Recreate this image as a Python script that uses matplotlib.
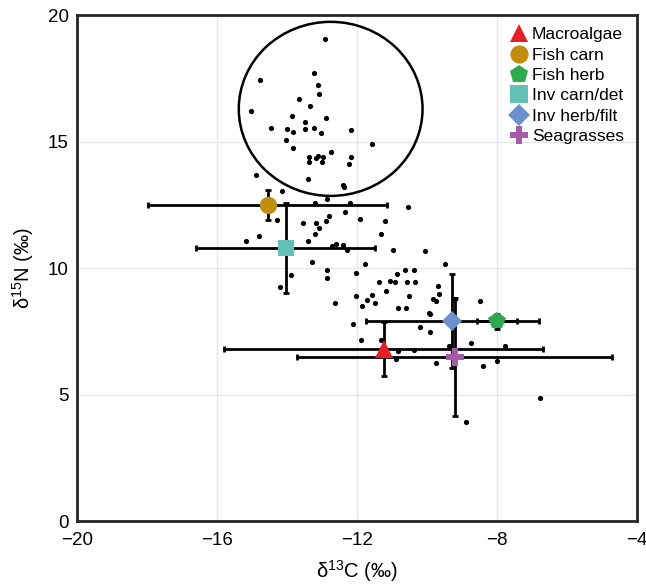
import matplotlib
matplotlib.use("Agg")
import matplotlib.pyplot as plt
from matplotlib.patches import Ellipse

plt.rcParams["font.family"] = ["Liberation Sans", "DejaVu Sans"]
plt.rcParams["mathtext.default"] = "regular"

# individual consumer samples (d13C, d15N)
pts_x = [-12.92, -13.24, -14.76, -13.12, -13.09, -13.66, -13.35, -15.03, -13.86, -12.89,
         -13.47, -14.46, -14.00, -13.83, -13.47, -13.24, -13.02, -12.16, -14.03, -11.57,
         -13.83, -12.74, -13.38, -13.38, -13.18, -13.11, -12.96, -12.99, -12.18, -12.24,
         -14.88, -13.40, -12.40, -12.37, -14.15, -12.85, -13.21, -12.21, -10.55, -12.34,
         -12.81, -14.27, -11.91, -11.20, -13.53, -13.17, -12.87, -13.07, -13.19, -11.30,
         -14.80, -15.16, -13.40, -12.61, -12.70, -12.39, -12.29, -10.98, -13.27, -11.76,
         -12.86, -10.63, -10.37, -13.87, -12.04, -12.86, -10.86, -11.37, -11.05, -10.91,
         -10.57, -10.35, -11.16, -14.20, -10.52, -11.58, -12.04, -11.72, -11.49, -11.86,
         -12.62, -10.83, -10.61, -10.05, -9.48, -9.67, -9.65, -9.83, -9.75, -9.95,
         -9.91, -9.20, -8.49, -12.11, -10.19, -9.90, -11.89, -11.30, -10.83, -10.37,
         -9.36, -8.75, -7.76, -10.88, -9.75, -8.39, -7.99, -8.87, -6.77]
pts_y = [19.05, 17.70, 17.44, 17.23, 16.89, 16.68, 16.43, 16.23, 16.02, 15.94,
         15.77, 15.53, 15.49, 15.39, 15.49, 15.56, 15.35, 15.45, 15.07, 14.90,
         14.75, 14.58, 14.39, 14.20, 14.35, 14.43, 14.41, 14.19, 14.41, 14.12,
         13.68, 13.51, 13.29, 13.23, 13.04, 12.73, 12.56, 12.56, 12.42, 12.24,
         12.08, 11.92, 11.96, 11.86, 11.79, 11.77, 11.85, 11.58, 11.34, 11.34,
         11.28, 11.07, 11.06, 10.95, 10.87, 10.90, 10.71, 10.74, 10.23, 10.16,
         9.92, 9.92, 9.95, 9.74, 9.80, 9.63, 9.76, 9.46, 9.50, 9.46,
         9.46, 9.46, 9.12, 9.25, 8.89, 8.96, 8.89, 8.74, 8.62, 8.51,
         8.62, 8.42, 8.42, 10.67, 10.16, 9.29, 8.97, 8.80, 8.71, 8.25,
         8.21, 8.80, 8.70, 7.81, 7.67, 7.47, 7.17, 7.17, 6.73, 6.77,
         6.92, 7.05, 6.91, 6.43, 6.27, 6.14, 6.35, 3.94, 4.89]

# source / group means with SD
groups = ["Macroalgae", "Fish carn", "Fish herb", "Inv carn/det", "Inv herb/filt", "Seagrasses"]
mean_x = [-11.24, -14.55, -8.01, -14.04, -9.27, -9.21]
mean_y = [6.80, 12.49, 7.91, 10.79, 7.91, 6.48]
sd_x = [4.55, 3.42, 0.57, 2.55, 2.48, 4.51]
sd_y = [1.07, 0.59, 0.30, 1.78, 1.85, 2.33]
markers = ["^", "o", "p", "s", "D", "P"]
sizes = [13, 12.5, 13, 12, 10.5, 12.5]
colors = ["#e41f26", "#c08d0e", "#2fa94d", "#63c0b6", "#6c8fce", "#a65ba8"]

fig = plt.figure(figsize=(6.46, 5.87), dpi=100)
ax = fig.add_axes([0.119, 0.112, 0.867, 0.862])

ax.scatter(pts_x, pts_y, s=14, color="black", zorder=2, linewidths=0)

for i in range(len(groups)):
    ax.errorbar(mean_x[i], mean_y[i], xerr=sd_x[i], yerr=sd_y[i], fmt="none",
                ecolor="black", elinewidth=2, capsize=2.5, capthick=2, zorder=3)
for i in range(len(groups)):
    ax.plot(mean_x[i], mean_y[i], linestyle="none", marker=markers[i],
            markersize=sizes[i], color=colors[i], markeredgewidth=0,
            label=groups[i], zorder=4)

# circle around the high-d15N cluster
ax.add_patch(Ellipse((-12.75, 16.30), 5.25, 6.88, fill=False, edgecolor="black",
                     linewidth=1.8, zorder=3))

ax.set_xlim(-20, -4)
ax.set_ylim(0, 20)
ax.set_xticks([-20, -16, -12, -8, -4])
ax.set_yticks([0, 5, 10, 15, 20])
ax.tick_params(length=0, labelsize=13.5)
ax.tick_params(axis="x", pad=8)
ax.tick_params(axis="y", pad=6)
ax.grid(color="#e6e6e6", linewidth=1)
ax.set_axisbelow(True)
for sp in ax.spines.values():
    sp.set_linewidth(2)
    sp.set_color("#2a2424")

ax.set_xlabel(r"δ$^{13}$C (‰)", fontsize=14.5, labelpad=6)
ax.set_ylabel(r"δ$^{15}$N (‰)", fontsize=14.5, labelpad=8)

ax.legend(loc="upper right", bbox_to_anchor=(0.995, 0.997), frameon=False,
          fontsize=12.5, handletextpad=0.15, labelspacing=0.3, handlelength=1.2,
          borderaxespad=0.2, markerscale=1.05)

fig.savefig("out.png", dpi=100)
